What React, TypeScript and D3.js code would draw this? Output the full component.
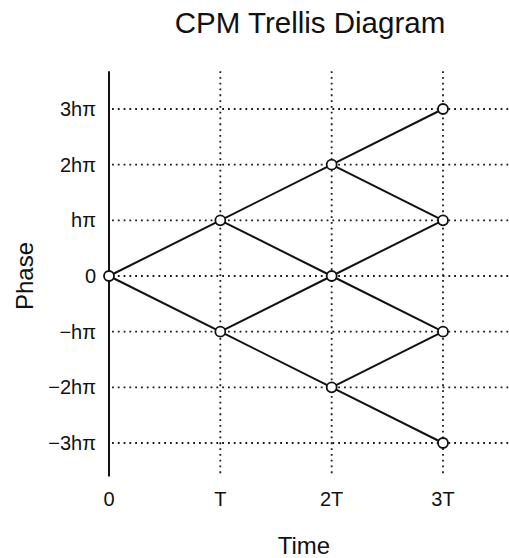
import { useEffect, useRef } from 'react';
import * as d3 from 'd3';

// trellis stages (in symbol periods T) and phase states (in units of hπ)
const timeTicks = [0, 1, 2, 3];
const timeLabels = ['0', 'T', '2T', '3T'];
const phaseTicks = [3, 2, 1, 0, -1, -2, -3];
const phaseLabels = ['3hπ', '2hπ', 'hπ', '0', '−hπ', '−2hπ', '−3hπ'];
const stageStates = [[0], [1, -1], [2, 0, -2], [3, 1, -1, -3]];

const font = '"Liberation Sans", Arial, sans-serif';

export default function App() {
  const svgRef = useRef<SVGSVGElement>(null);
  const width = 509;
  const height = 558;

  useEffect(() => {
    if (!svgRef.current) return;
    const svg = d3.select(svgRef.current);
    svg.selectAll('*').remove();

    const x = d3.scaleLinear().domain([0, 3]).range([109, 443]);
    const y = d3.scaleLinear().domain([-3, 3]).range([443, 109]);
    const yTop = y(3.68);
    const yBottom = y(-3.6);
    const xRight = 509;

    // Title
    svg.append('text')
      .attr('x', 310)
      .attr('y', 33)
      .attr('text-anchor', 'middle')
      .attr('font-size', '29.5px')
      .attr('font-family', font)
      .attr('fill', '#111')
      .text('CPM Trellis Diagram');

    // Grid lines
    const grid = svg.append('g')
      .attr('stroke', '#1a1a1a')
      .attr('stroke-width', 1.8)
      .attr('stroke-dasharray', '1.8,4');
    grid.selectAll('.hgrid')
      .data(phaseTicks)
      .enter()
      .append('line')
      .attr('x1', x(0) + 3)
      .attr('x2', xRight)
      .attr('y1', d => y(d))
      .attr('y2', d => y(d));
    grid.selectAll('.vgrid')
      .data(timeTicks.slice(1))
      .enter()
      .append('line')
      .attr('x1', d => x(d))
      .attr('x2', d => x(d))
      .attr('y1', yTop)
      .attr('y2', yBottom);

    // Y axis line
    svg.append('line')
      .attr('x1', x(0))
      .attr('x2', x(0))
      .attr('y1', yTop)
      .attr('y2', yBottom)
      .attr('stroke', '#111')
      .attr('stroke-width', 2);

    // Tick labels
    svg.selectAll('.ylab')
      .data(phaseTicks)
      .enter()
      .append('text')
      .attr('x', 96)
      .attr('y', d => y(d) + 7)
      .attr('text-anchor', 'end')
      .attr('font-size', '20px')
      .attr('font-family', font)
      .attr('fill', '#111')
      .text((d, i) => phaseLabels[i]);

    svg.selectAll('.xlab')
      .data(timeTicks)
      .enter()
      .append('text')
      .attr('x', d => x(d))
      .attr('y', 506)
      .attr('text-anchor', 'middle')
      .attr('font-size', '20px')
      .attr('font-family', font)
      .attr('fill', '#111')
      .text((d, i) => timeLabels[i]);

    // Axis titles
    svg.append('text')
      .attr('x', 304)
      .attr('y', 554)
      .attr('text-anchor', 'middle')
      .attr('font-size', '24px')
      .attr('font-family', font)
      .attr('fill', '#111')
      .text('Time');

    svg.append('text')
      .attr('transform', `translate(33, ${y(0)}) rotate(-90)`)
      .attr('text-anchor', 'middle')
      .attr('font-size', '24px')
      .attr('font-family', font)
      .attr('fill', '#111')
      .text('Phase');

    // Trellis branches
    const edges: { t: number; from: number; to: number }[] = [];
    stageStates.slice(0, -1).forEach((states, t) => {
      states.forEach(s => {
        edges.push({ t, from: s, to: s + 1 });
        edges.push({ t, from: s, to: s - 1 });
      });
    });
    svg.selectAll('.edge')
      .data(edges)
      .enter()
      .append('line')
      .attr('x1', d => x(d.t))
      .attr('y1', d => y(d.from))
      .attr('x2', d => x(d.t + 1))
      .attr('y2', d => y(d.to))
      .attr('stroke', '#111')
      .attr('stroke-width', 2);

    // Nodes
    const nodes = stageStates.flatMap((states, t) => states.map(s => ({ t, s })));
    svg.selectAll('.node')
      .data(nodes)
      .enter()
      .append('circle')
      .attr('cx', d => x(d.t))
      .attr('cy', d => y(d.s))
      .attr('r', 5)
      .attr('fill', '#fff')
      .attr('stroke', '#111')
      .attr('stroke-width', 1.8);
  }, []);

  return (
    <svg
      ref={svgRef}
      width={width}
      height={height}
      style={{ position: 'absolute', left: 0, top: 0, background: '#fff' }}
    />
  );
}
